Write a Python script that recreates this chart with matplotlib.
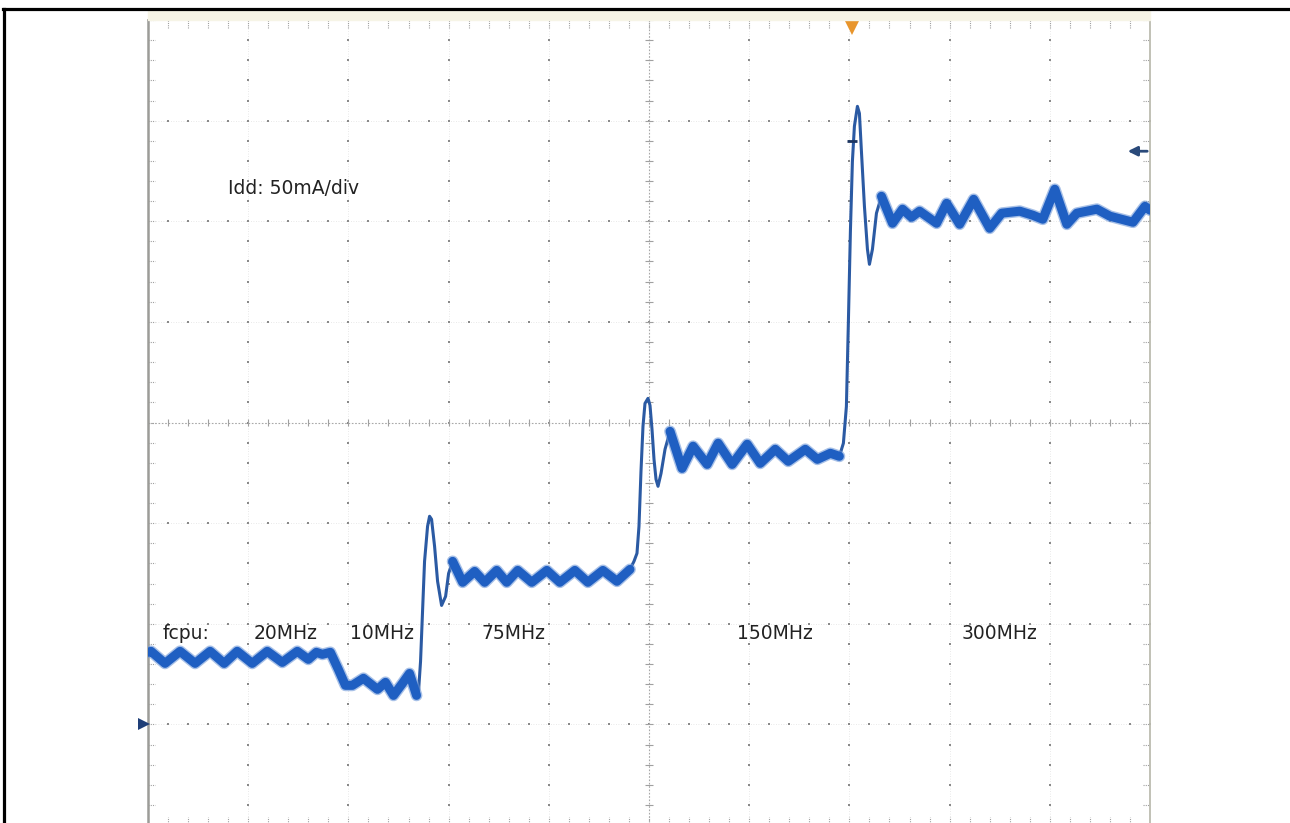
import numpy as np
import matplotlib.pyplot as plt
from matplotlib.lines import Line2D

# Idd trace, time in divisions, current in mA (50 mA/div, ground marker at 0)
# 20 MHz then 10 MHz
t_low = [0.00, 0.03, 0.17, 0.32, 0.47, 0.62, 0.76, 0.89, 1.04, 1.19, 1.34, 1.49,
         1.60, 1.68, 1.74, 1.82, 1.90, 1.97, 2.04, 2.15, 2.29, 2.37, 2.45, 2.54,
         2.61, 2.68]
i_low = [35.8, 36.3, 30.3, 36.3, 30.3, 36.3, 30.3, 36.3, 30.3, 36.3, 30.8, 36.3,
         32.3, 35.8, 34.8, 35.8, 27.3, 19.4, 19.4, 22.9, 17.4, 20.9, 14.4, 20.4,
         25.3, 14.4]
# step to 75 MHz
t_rise1 = [2.70, 2.72, 2.74, 2.76, 2.79, 2.81, 2.83, 2.86, 2.89, 2.93, 2.97, 3.00]
i_rise1 = [16.4, 31.3, 56.2, 81.0, 98.4, 103.4, 101.9, 88.5, 71.1, 59.1, 63.6, 75.0]
# 75 MHz
t_75 = [3.04, 3.14, 3.26, 3.36, 3.48, 3.58, 3.69, 3.83, 3.98, 4.11, 4.26, 4.39,
        4.54, 4.68, 4.81]
i_75 = [81.0, 70.6, 76.0, 70.6, 76.5, 70.6, 76.5, 70.6, 76.5, 70.6, 76.5, 70.6,
        76.5, 71.1, 77.0]
# step to 150 MHz
t_rise2 = [4.85, 4.88, 4.90, 4.92, 4.94, 4.96, 4.99, 5.01, 5.03, 5.05, 5.07, 5.09,
           5.12, 5.16]
i_rise2 = [81.0, 85.0, 98.4, 125.7, 148.1, 159.5, 162.0, 158.5, 146.6, 131.7,
           121.8, 118.3, 124.7, 136.7]
# 150 MHz
t_150 = [5.21, 5.33, 5.44, 5.58, 5.69, 5.83, 5.98, 6.11, 6.26, 6.39, 6.56, 6.68,
         6.81, 6.90]
i_150 = [145.6, 127.2, 138.2, 129.2, 139.7, 129.2, 139.2, 129.7, 136.7, 130.7,
         136.7, 131.7, 134.7, 133.2]
# step to 300 MHz
t_rise3 = [6.94, 6.97, 6.99, 7.01, 7.03, 7.05, 7.08, 7.10, 7.12, 7.15, 7.18, 7.20,
           7.23, 7.27]
i_rise3 = [139.7, 158.0, 200.3, 245.0, 279.8, 297.2, 307.1, 303.6, 284.8, 257.4,
           236.1, 228.6, 236.1, 254.0]
# 300 MHz
t_300 = [7.32, 7.43, 7.53, 7.62, 7.70, 7.87, 7.97, 8.10, 8.24, 8.40, 8.52, 8.70,
         8.83, 8.93, 9.05, 9.17, 9.27, 9.47, 9.60, 9.83, 9.95, 10.00]
i_300 = [262.4, 249.0, 256.0, 252.0, 255.0, 249.0, 258.9, 248.5, 260.9, 246.5,
         254.0, 255.0, 253.0, 251.0, 265.9, 248.5, 254.0, 256.0, 252.5, 249.5,
         257.4, 255.5]

freq_labels = ["fcpu:", "20MHz", "10MHz", "75MHz", "150MHz", "300MHz"]
trig_level = 284.8

W, H = 1290, 823
fig = plt.figure(figsize=(W / 100, H / 100), dpi=100)
fig.patch.set_facecolor('white')
ax = fig.add_axes([148 / W, -2 / H, 1002 / W, 805 / H])
ax.set_xlim(0, 10)
ax.set_ylim(-50, 350)
ax.axis('off')

# beige strip above the graticule
fig.patches.append(plt.Rectangle((148 / W, 1 - 20 / H), 1002 / W, 10 / H,
                                 transform=fig.transFigure, color='#f6f4e6', zorder=0))

# graticule
minor_x = np.arange(0, 10.001, 0.2)
minor_y = np.arange(-50, 350.001, 10)
gc = '#a0a0a0'
for xm in [1, 2, 3, 4, 6, 7, 8, 9]:
    ax.axvline(xm, color='#e2e2e2', lw=0.6, ls=(0, (1, 2)), zorder=1)
    ax.plot([xm] * len(minor_y), minor_y, ls='none', marker='s', ms=1.5, mew=0,
            color='#8a8a8a', zorder=1)
for ym in [0, 50, 100, 200, 250, 300]:
    ax.axhline(ym, color='#e2e2e2', lw=0.6, ls=(0, (1, 2)), zorder=1)
    ax.plot(minor_x, [ym] * len(minor_x), ls='none', marker='s', ms=1.5, mew=0,
            color='#8a8a8a', zorder=1)
ax.axvline(5, color='#a8a8a8', lw=0.8, ls=(0, (1.5, 1.5)), zorder=1)
ax.axhline(150, color='#a8a8a8', lw=0.8, ls=(0, (1.5, 1.5)), zorder=1)
ax.hlines(minor_y, 5 - 0.035, 5 + 0.035, color=gc, lw=0.8, zorder=1)
ax.vlines(minor_x, 150 - 1.8, 150 + 1.8, color=gc, lw=0.8, zorder=1)
ax.vlines(minor_x, 350 - 4, 350, color=gc, lw=0.8, ls=(0, (1, 1)), zorder=1)
ax.vlines(minor_x, -50, -46, color=gc, lw=0.8, ls=(0, (1, 1)), zorder=1)
ax.hlines(minor_y, 0, 0.07, color=gc, lw=0.8, ls=(0, (1, 1)), zorder=1)
ax.hlines(minor_y, 9.93, 10, color=gc, lw=0.8, ls=(0, (1, 1)), zorder=1)
ax.plot([0, 10, 10], [350, 350, -50], color='#bcbcb0', lw=1.3, zorder=2, clip_on=False)
ax.plot([0, 0], [-50, 350], color='#9c9c98', lw=1.8, zorder=2, clip_on=False)

# trace: thin line everywhere, thick noisy band on the settled parts
t_all = t_low + t_rise1 + t_75 + t_rise2 + t_150 + t_rise3 + t_300
i_all = i_low + i_rise1 + i_75 + i_rise2 + i_150 + i_rise3 + i_300
ax.plot(t_all, i_all, color='#2b5aa3', lw=2.2, zorder=4, solid_joinstyle='round')
for ts, vs in [(t_low, i_low), (t_75, i_75), (t_150, i_150), (t_300, i_300)]:
    ax.plot(ts, vs, color='#6d97d8', lw=8.5, alpha=0.6, zorder=4,
            solid_capstyle='round', solid_joinstyle='round')
    ax.plot(ts, vs, color='#1f5fc2', lw=6.5, zorder=4, solid_capstyle='round',
            solid_joinstyle='round')

# markers
ax.plot(7.03, 346.5, marker='v', ms=11, color='#e8952c', mew=0, clip_on=False, zorder=6)
ax.annotate('', xy=(9.75, trig_level), xytext=(10.0, trig_level),
            arrowprops=dict(arrowstyle='-|>', color='#2a4a7a', lw=2.0, mutation_scale=14),
            zorder=6, annotation_clip=False)
ax.plot(-0.04, 0, marker='>', ms=8, color='#1f3f78', mew=0, clip_on=False, zorder=6)
ax.hlines(289.8, 6.98, 7.08, color='#1c3560', lw=2, zorder=5)

# text
fnt = dict(family='DejaVu Sans', fontsize=13.5, color='#222222', va='center')
ax.text(0.80, 266.4, "Idd: 50mA/div", **fnt)
for lab, tx in zip(freq_labels, [0.15, 1.05, 2.02, 3.33, 5.88, 8.12]):
    ax.text(tx, 45.2, lab, **fnt)

# outer black frame (top and left visible)
fig.add_artist(Line2D([3 / W, 1], [1 - 8.5 / H] * 2, color='black', lw=2.3))
fig.add_artist(Line2D([4 / W] * 2, [0, 1 - 8.5 / H], color='black', lw=2.3))

fig.savefig('out.png', dpi=100)
